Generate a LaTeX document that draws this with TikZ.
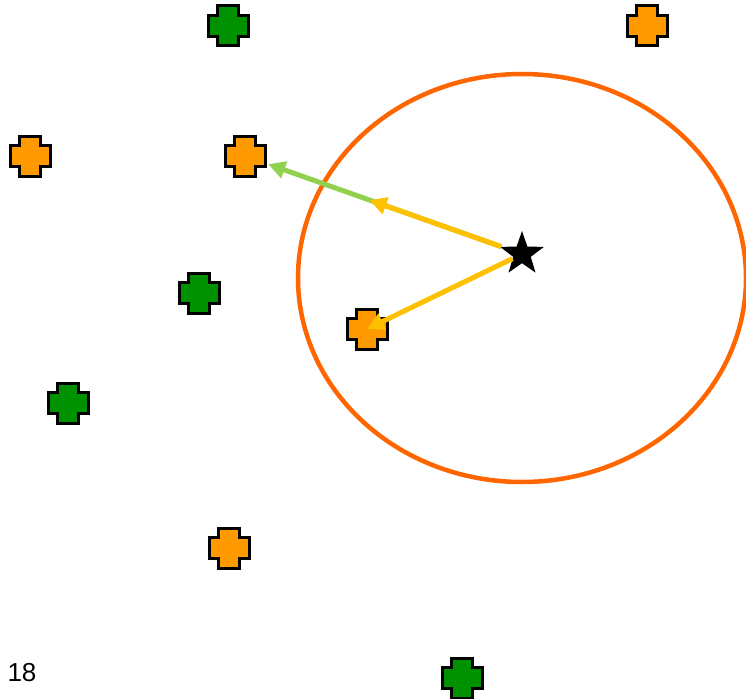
\documentclass[tikz,border=0pt]{standalone}
\usepackage{fontspec}
\setsansfont{Liberation Sans}
\usepackage{tikz}
\usetikzlibrary{arrows.meta,shapes.geometric,calc}

\definecolor{plusorange}{HTML}{FF9900}
\definecolor{plusgreen}{HTML}{009100}
\definecolor{ringorange}{HTML}{FF6600}
\definecolor{vecyellow}{HTML}{FFC000}
\definecolor{vecgreen}{HTML}{92D050}

\begin{document}
\begin{tikzpicture}[
    x=1pt, y=-1pt,
    plus/.style={rectangle, minimum size=46pt, inner sep=0pt,
        path picture={\draw[fill=#1, line width=3pt, line join=miter]
            ($(path picture bounding box.center)+(-10.5,-20)$) -- ++(21,0) -- ++(0,9.5) -- ++(9.5,0)
            -- ++(0,21) -- ++(-9.5,0) -- ++(0,9.5) -- ++(-21,0) -- ++(0,-9.5) -- ++(-9.5,0)
            -- ++(0,-21) -- ++(9.5,0) -- cycle;}},
    query/.style={star, star points=5, star point ratio=2.5, fill=black, minimum size=46pt, inner sep=0pt},
    vec/.style={-{Triangle[length=17pt, width=17pt]}, line width=5pt, draw=#1},
]
\useasboundingbox (0,0) rectangle (746,698);

\node[plus=plusgreen] (g1) at (228,26) {};
\node[plus=plusorange] (o1) at (647,26) {};
\node[plus=plusorange] (o2) at (30,156) {};
\node[plus=plusorange] (o3) at (245,156) {};
\node[plus=plusgreen] (g2) at (199,293) {};
\node[plus=plusorange] (o4) at (367,329) {};
\node[plus=plusgreen] (g3) at (68,403) {};
\node[plus=plusorange] (o5) at (229,548) {};
\node[plus=plusgreen] (g4) at (462,678) {};

\node[query] (q) at (522,254) {};

% search radius
\draw[ringorange, line width=4.5pt] (522,278) ellipse [x radius=224, y radius=204];

\coordinate (half) at ($(q)!0.55!(o3)$);
\draw[vec=vecgreen] (q) -- (o3);
\draw[vec=vecyellow] (q) -- (half);
\draw[vec=vecyellow] (q) -- (o4.center);

\node[font=\sffamily\fontsize{26}{30}\selectfont] (page) at (22,673) {18};
\end{tikzpicture}
\end{document}
